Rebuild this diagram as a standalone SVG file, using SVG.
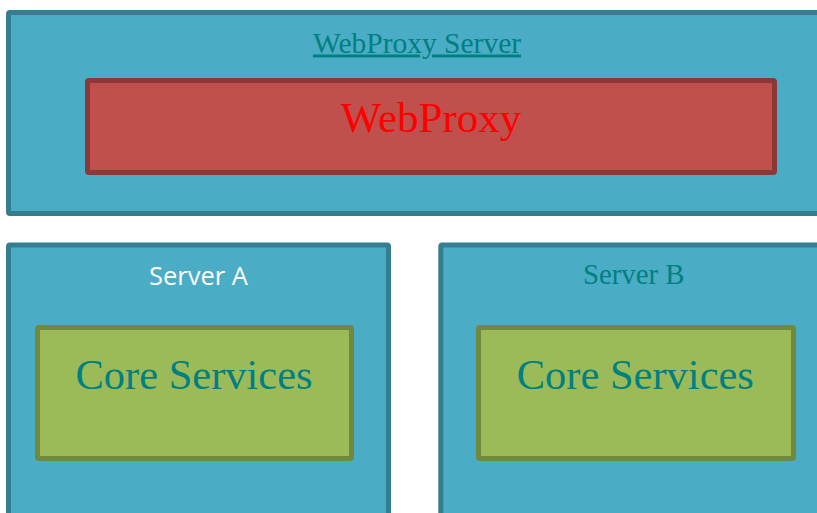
<svg xmlns="http://www.w3.org/2000/svg" width="817" height="513" viewBox="0 0 817 513">
  <style>
    .server { fill: #4BACC6; stroke: #357E8F; stroke-width: 5; }
    .proxy { fill: #C0504D; stroke: #8C3836; stroke-width: 5; }
    .core { fill: #9BBB59; stroke: #71893F; stroke-width: 5; }
    .serif { font-family: "Liberation Serif", "Times New Roman", serif; text-anchor: middle; }
    .sans { font-family: "Open Sans", "Liberation Sans", sans-serif; text-anchor: middle; }
    .teal { fill: #008080; }
  </style>
  <rect width="817" height="513" fill="#FFFFFF"/>

  <!-- Proxy host with the WebProxy component -->
  <g id="webproxy-server">
    <rect class="server" x="8.5" y="12.5" width="820" height="201" rx="1.5"/>
    <text class="serif teal" x="417" y="52.5" font-size="29.5" text-decoration="underline">WebProxy Server</text>
  </g>
  <g id="webproxy">
    <rect class="proxy" x="87.5" y="80.5" width="687" height="92" rx="1.5"/>
    <text class="serif" x="431" y="132" font-size="43" fill="#FF0000">WebProxy</text>
  </g>

  <!-- Backend hosts -->
  <g id="server-a">
    <rect class="server" x="8.5" y="245" width="380" height="290" rx="1.5"/>
    <text class="sans" x="198.5" y="285" font-size="25.5" fill="#FFFFFF">Server A</text>
  </g>
  <g id="core-services-a">
    <rect class="core" x="37.5" y="327.5" width="314" height="131" rx="1.5"/>
    <text class="serif teal" x="194" y="389" font-size="42.5">Core Services</text>
  </g>

  <g id="server-b">
    <rect class="server" x="440.8" y="245" width="400" height="290" rx="1.5"/>
    <text class="serif teal" x="633.7" y="283.5" font-size="28.8">Server B</text>
  </g>
  <g id="core-services-b">
    <rect class="core" x="478.5" y="327.5" width="315" height="131" rx="1.5"/>
    <text class="serif teal" x="635.3" y="389" font-size="42.5">Core Services</text>
  </g>

  <g id="connectors"/>
</svg>
